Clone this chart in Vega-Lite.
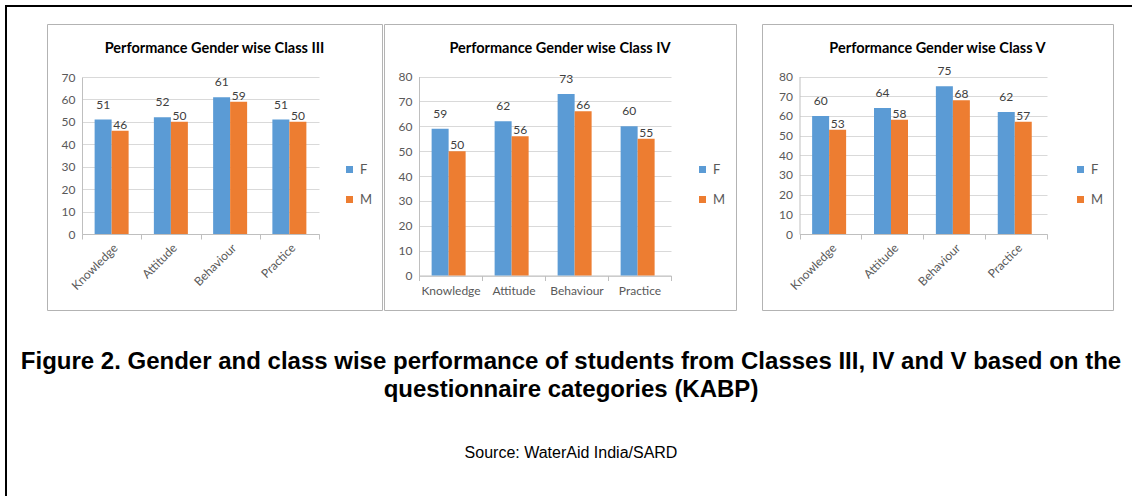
{
  "$schema": "https://vega.github.io/schema/vega-lite/v6.json",
  "background": "white",
  "padding": {"left": 5, "top": 5, "right": 0, "bottom": 0},
  "datasets": {
    "scores": [
      {"cls": "III", "category": "Knowledge", "gender": "F", "value": 51},
      {"cls": "III", "category": "Knowledge", "gender": "M", "value": 46},
      {"cls": "III", "category": "Attitude", "gender": "F", "value": 52},
      {"cls": "III", "category": "Attitude", "gender": "M", "value": 50},
      {"cls": "III", "category": "Behaviour", "gender": "F", "value": 61},
      {"cls": "III", "category": "Behaviour", "gender": "M", "value": 59},
      {"cls": "III", "category": "Practice", "gender": "F", "value": 51},
      {"cls": "III", "category": "Practice", "gender": "M", "value": 50},
      {"cls": "IV", "category": "Knowledge", "gender": "F", "value": 59},
      {"cls": "IV", "category": "Knowledge", "gender": "M", "value": 50},
      {"cls": "IV", "category": "Attitude", "gender": "F", "value": 62},
      {"cls": "IV", "category": "Attitude", "gender": "M", "value": 56},
      {"cls": "IV", "category": "Behaviour", "gender": "F", "value": 73},
      {"cls": "IV", "category": "Behaviour", "gender": "M", "value": 66},
      {"cls": "IV", "category": "Practice", "gender": "F", "value": 60},
      {"cls": "IV", "category": "Practice", "gender": "M", "value": 55},
      {"cls": "V", "category": "Knowledge", "gender": "F", "value": 60},
      {"cls": "V", "category": "Knowledge", "gender": "M", "value": 53},
      {"cls": "V", "category": "Attitude", "gender": "F", "value": 64},
      {"cls": "V", "category": "Attitude", "gender": "M", "value": 58},
      {"cls": "V", "category": "Behaviour", "gender": "F", "value": 75},
      {"cls": "V", "category": "Behaviour", "gender": "M", "value": 68},
      {"cls": "V", "category": "Practice", "gender": "F", "value": 62},
      {"cls": "V", "category": "Practice", "gender": "M", "value": 57}
    ]
  },
  "title": {
    "text": ["Figure 2. Gender and class wise performance of students from Classes III, IV and V based on the", "questionnaire categories (KABP)"],
    "subtitle": "Source: WaterAid India/SARD",
    "orient": "bottom",
    "anchor": "middle",
    "offset": -147,
    "dx": 2,
    "font": "Liberation Sans",
    "fontSize": 24,
    "fontWeight": "bold",
    "lineHeight": 28,
    "color": "#000000",
    "subtitleFont": "Liberation Sans",
    "subtitleFontSize": 16,
    "subtitleFontWeight": "normal",
    "subtitleColor": "#000000",
    "subtitlePadding": 43
  },
  "spacing": -2,
  "resolve": {"scale": {"color": "independent"}, "legend": {"color": "independent"}},
  "hconcat": [
    {
      "width": 40,
      "height": 490,
      "view": {"stroke": "#000000", "strokeWidth": 2, "strokeDash": [40, 530, 490, 1]},
      "data": {"values": []},
      "mark": {"type": "rect", "opacity": 0},
      "encoding": {}
    },
    {
      "spacing": 15,
      "resolve": {"scale": {"color": "independent"}, "legend": {"color": "independent"}},
      "vconcat": [
        {
          "width": 1085,
          "height": 0.01,
          "view": {"stroke": "#000000", "strokeWidth": 2},
          "data": {"values": []},
          "mark": {"type": "rect", "opacity": 0},
          "encoding": {}
        },
        {
          "spacing": 23,
          "resolve": {"scale": {"color": "independent"}, "legend": {"color": "independent"}},
          "hconcat": [
            {
              "spacing": 0,
              "resolve": {"scale": {"color": "independent"}, "legend": {"color": "independent"}},
              "hconcat": [
                {
                  "width": 335,
                  "height": 286,
                  "view": {"stroke": "#b3b3b3", "strokeWidth": 1},
                  "title": {"text": "Performance Gender wise Class III", "offset": -43, "baseline": "alphabetic", "anchor": "middle", "frame": "group", "font": "Lato", "fontSize": 14.5, "fontWeight": "bold", "color": "#000000"},
                  "data": {"name": "scores"},
                  "transform": [{"filter": "datum.cls === 'III'"}],
                  "encoding": {
                    "x": {"field": "category", "type": "nominal", "sort": ["Knowledge", "Attitude", "Behaviour", "Practice"],
                      "scale": {"range": [35, 272], "paddingInner": 0, "paddingOuter": 0},
                      "axis": {"title": null, "offset": -76, "labelAngle": -45, "labelAlign": "right", "labelBaseline": "top", "tickBand": "extent", "tickSize": 5, "labelPadding": 3, "labelFontSize": 12, "grid": false}},
                    "xOffset": {"field": "gender", "type": "nominal", "scale": {"paddingInner": 0, "paddingOuter": 0.743}},
                    "y": {"field": "value", "type": "quantitative",
                      "scale": {"domain": [0, 70], "range": [210, 53], "nice": false, "zero": true},
                      "axis": {"title": null, "offset": -35, "values": [0, 10, 20, 30, 40, 50, 60, 70], "ticks": false, "labelPadding": 7, "labelFontSize": 12, "grid": true}}
                  },
                  "layer": [
                    {"mark": {"type": "bar"},
                      "encoding": {"color": {"field": "gender", "type": "nominal", "scale": {"domain": ["F", "M"], "range": ["#5b9bd5", "#ed7d31"]},
                        "legend": {"orient": "none", "legendX": 296, "legendY": 139, "title": null, "symbolType": "square", "symbolSize": 49, "symbolStrokeWidth": 0, "labelFontSize": 13, "labelOffset": 4, "rowPadding": 16, "padding": 0}}}},
                    {"transform": [{"filter": "datum.gender === 'F'"}], "mark": {"type": "text", "baseline": "alphabetic", "dy": -11, "fontSize": 12, "font": "Lato", "color": "#404040"}, "encoding": {"text": {"field": "value", "type": "quantitative"}}},
                    {"transform": [{"filter": "datum.gender === 'M'"}], "mark": {"type": "text", "baseline": "alphabetic", "dy": -2, "fontSize": 12, "font": "Lato", "color": "#404040"}, "encoding": {"text": {"field": "value", "type": "quantitative"}}}
                  ]
                },
                {
                  "width": 352,
                  "height": 286,
                  "view": {"stroke": "#b3b3b3", "strokeWidth": 1},
                  "title": {"text": "Performance Gender wise Class IV", "offset": -43, "baseline": "alphabetic", "anchor": "middle", "frame": "group", "font": "Lato", "fontSize": 14.5, "fontWeight": "bold", "color": "#000000"},
                  "data": {"name": "scores"},
                  "transform": [{"filter": "datum.cls === 'IV'"}],
                  "encoding": {
                    "x": {"field": "category", "type": "nominal", "sort": ["Knowledge", "Attitude", "Behaviour", "Practice"],
                      "scale": {"range": [35, 287], "paddingInner": 0, "paddingOuter": 0},
                      "axis": {"title": null, "offset": -34.5, "labelAngle": 0, "tickBand": "extent", "tickSize": 5, "labelPadding": 5, "labelFontSize": 12, "grid": false}},
                    "xOffset": {"field": "gender", "type": "nominal", "scale": {"paddingInner": 0, "paddingOuter": 0.77}},
                    "y": {"field": "value", "type": "quantitative",
                      "scale": {"domain": [0, 80], "range": [251.5, 52.5], "nice": false, "zero": true},
                      "axis": {"title": null, "offset": -35, "values": [0, 10, 20, 30, 40, 50, 60, 70, 80], "ticks": false, "labelPadding": 7, "labelFontSize": 12, "grid": true}}
                  },
                  "layer": [
                    {"mark": {"type": "bar"},
                      "encoding": {"color": {"field": "gender", "type": "nominal", "scale": {"domain": ["F", "M"], "range": ["#5b9bd5", "#ed7d31"]},
                        "legend": {"orient": "none", "legendX": 312, "legendY": 139, "title": null, "symbolType": "square", "symbolSize": 49, "symbolStrokeWidth": 0, "labelFontSize": 13, "labelOffset": 4, "rowPadding": 16, "padding": 0}}}},
                    {"transform": [{"filter": "datum.gender === 'F'"}], "mark": {"type": "text", "baseline": "alphabetic", "dy": -11, "fontSize": 12, "font": "Lato", "color": "#404040"}, "encoding": {"text": {"field": "value", "type": "quantitative"}}},
                    {"transform": [{"filter": "datum.gender === 'M'"}], "mark": {"type": "text", "baseline": "alphabetic", "dy": -2, "fontSize": 12, "font": "Lato", "color": "#404040"}, "encoding": {"text": {"field": "value", "type": "quantitative"}}}
                  ]
                }
              ]
            },
            {
              "width": 351,
              "height": 286,
              "view": {"stroke": "#b3b3b3", "strokeWidth": 1},
              "title": {"text": "Performance Gender wise Class V", "offset": -43, "baseline": "alphabetic", "anchor": "middle", "frame": "group", "font": "Lato", "fontSize": 14.5, "fontWeight": "bold", "color": "#000000"},
              "data": {"name": "scores"},
              "transform": [{"filter": "datum.cls === 'V'"}],
              "encoding": {
                "x": {"field": "category", "type": "nominal", "sort": ["Knowledge", "Attitude", "Behaviour", "Practice"],
                  "scale": {"range": [37.5, 285], "paddingInner": 0, "paddingOuter": 0},
                  "axis": {"title": null, "offset": -76, "labelAngle": -45, "labelAlign": "right", "labelBaseline": "top", "tickBand": "extent", "tickSize": 5, "labelPadding": 3, "labelFontSize": 12, "grid": false}},
                "xOffset": {"field": "gender", "type": "nominal", "scale": {"paddingInner": 0, "paddingOuter": 0.72}},
                "y": {"field": "value", "type": "quantitative",
                  "scale": {"domain": [0, 80], "range": [210, 52.5], "nice": false, "zero": true},
                  "axis": {"title": null, "offset": -37.5, "values": [0, 10, 20, 30, 40, 50, 60, 70, 80], "ticks": false, "labelPadding": 7, "labelFontSize": 12, "grid": true}}
              },
              "layer": [
                {"mark": {"type": "bar"},
                  "encoding": {"color": {"field": "gender", "type": "nominal", "scale": {"domain": ["F", "M"], "range": ["#5b9bd5", "#ed7d31"]},
                    "legend": {"orient": "none", "legendX": 312, "legendY": 139, "title": null, "symbolType": "square", "symbolSize": 49, "symbolStrokeWidth": 0, "labelFontSize": 13, "labelOffset": 4, "rowPadding": 16, "padding": 0}}}},
                {"transform": [{"filter": "datum.gender === 'F'"}], "mark": {"type": "text", "baseline": "alphabetic", "dy": -11, "fontSize": 12, "font": "Lato", "color": "#404040"}, "encoding": {"text": {"field": "value", "type": "quantitative"}}},
                {"transform": [{"filter": "datum.gender === 'M'"}], "mark": {"type": "text", "baseline": "alphabetic", "dy": -2, "fontSize": 12, "font": "Lato", "color": "#404040"}, "encoding": {"text": {"field": "value", "type": "quantitative"}}}
              ]
            }
          ]
        }
      ]
    }
  ],
  "config": {
    "font": "Lato",
    "axis": {"labelFont": "Lato", "labelColor": "#595959", "domainColor": "#bfbfbf", "tickColor": "#bfbfbf", "gridColor": "#d9d9d9", "domainWidth": 1, "gridWidth": 1},
    "legend": {"labelFont": "Lato", "labelColor": "#595959"}
  }
}
